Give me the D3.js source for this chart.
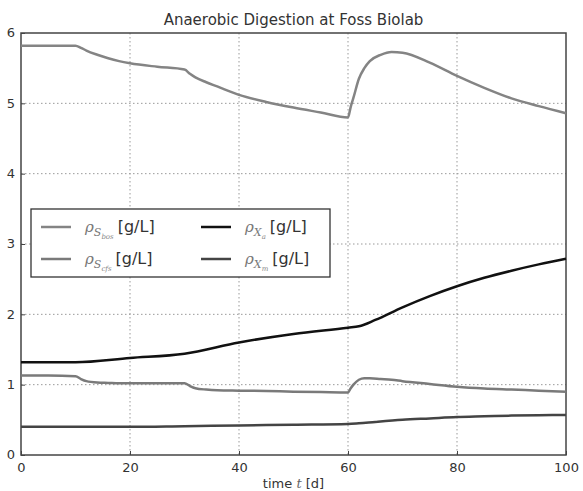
<!DOCTYPE html>
<html>
<head>
<meta charset="utf-8">
<script src="https://cdn.jsdelivr.net/npm/d3@7"></script>
<style>
  body { margin: 0; background: #fff; }
  text { font-family: "DejaVu Sans", sans-serif; fill: #333; }
</style>
</head>
<body>
<div id="chart"></div>
<script>
// time points (days)
var tS = [0, 5, 10, 11, 12, 14, 16, 18, 20, 25, 30, 31, 32, 34, 36, 40, 45, 50, 55, 60,
          60.5, 61, 62, 63, 64, 66, 68, 70, 75, 80, 85, 90, 95, 100];
var tX = [0, 10, 20, 30, 40, 50, 60, 62, 65, 70, 75, 80, 85, 90, 95, 100];

// concentrations [g/L]
var sBos = [5.82, 5.82, 5.82, 5.79, 5.75, 5.69, 5.64, 5.60, 5.57, 5.52, 5.48, 5.42, 5.37, 5.30, 5.24, 5.12, 5.02, 4.94, 4.87, 4.80,
            4.95, 5.08, 5.35, 5.50, 5.60, 5.69, 5.73, 5.72, 5.58, 5.39, 5.22, 5.07, 4.96, 4.86];
var sCfs = [1.13, 1.13, 1.12, 1.08, 1.05, 1.03, 1.025, 1.02, 1.02, 1.02, 1.02, 0.98, 0.95, 0.93, 0.92, 0.915, 0.91, 0.90, 0.895, 0.89,
            0.95, 1.00, 1.07, 1.09, 1.09, 1.08, 1.07, 1.05, 1.01, 0.97, 0.945, 0.93, 0.915, 0.90];
var xA = [1.32, 1.32, 1.38, 1.44, 1.60, 1.72, 1.81, 1.83, 1.92, 2.10, 2.26, 2.40, 2.52, 2.62, 2.71, 2.79];
var xM = [0.40, 0.40, 0.40, 0.41, 0.42, 0.43, 0.44, 0.45, 0.47, 0.50, 0.52, 0.54, 0.55, 0.56, 0.565, 0.57];

var xTicks = [0, 20, 40, 60, 80, 100];
var yTicks = [0, 1, 2, 3, 4, 5, 6];

var series = [
    {t: tS, v: sBos, color: "#848484", sub: "bos"},
    {t: tS, v: sCfs, color: "#7a7a7a", sub: "cfs"},
    {t: tX, v: xA, color: "#111111", sub: "a"},
    {t: tX, v: xM, color: "#444444", sub: "m"}
];
var legendSym = ["S", "S", "X", "X"];

var margin = {top: 33, right: 17, bottom: 36, left: 21},
    width = 583 - margin.left - margin.right,
    height = 491 - margin.top - margin.bottom;

var svg = d3.select("#chart")
    .append("svg")
    .attr("width", 583)
    .attr("height", 491);

var g = svg.append("g")
    .attr("transform", "translate(" + margin.left + "," + margin.top + ")");

var xScale = d3.scaleLinear().domain([0, 100]).range([0, width]);
var yScale = d3.scaleLinear().domain([0, 6]).range([height, 0]);

// grid
g.append("g").selectAll("line")
    .data(xTicks.slice(1, -1))
    .enter().append("line")
    .attr("x1", function(d){ return xScale(d); })
    .attr("x2", function(d){ return xScale(d); })
    .attr("y1", 0).attr("y2", height)
    .attr("stroke", "#999").attr("stroke-dasharray", "1.5,2.5");

g.append("g").selectAll("line")
    .data(yTicks.slice(1, -1))
    .enter().append("line")
    .attr("y1", function(d){ return yScale(d); })
    .attr("y2", function(d){ return yScale(d); })
    .attr("x1", 0).attr("x2", width)
    .attr("stroke", "#999").attr("stroke-dasharray", "1.5,2.5");

// axes
var xAxis = g.append("g")
    .attr("transform", "translate(0," + height + ")")
    .call(d3.axisBottom(xScale).tickValues(xTicks).tickFormat(d3.format("d")).tickSize(-4).tickPadding(8));
var yAxis = g.append("g")
    .call(d3.axisLeft(yScale).tickValues(yTicks).tickFormat(d3.format("d")).tickSize(-4).tickPadding(6));

[xAxis, yAxis].forEach(function(a){
    a.select(".domain").remove();
    a.selectAll("line").attr("stroke", "#444");
    a.selectAll("text").style("font-size", "13px").attr("fill", "#333");
});
yAxis.selectAll("text").attr("dy", "0.3em");

// frame
g.append("rect")
    .attr("width", width).attr("height", height)
    .attr("fill", "none").attr("stroke", "#444").attr("stroke-width", 1.5);

// lines
var line = d3.line()
    .x(function(d){ return xScale(d[0]); })
    .y(function(d){ return yScale(d[1]); })
    .curve(d3.curveMonotoneX);

series.forEach(function(s){
    g.append("path")
        .datum(s.t.map(function(t, i){ return [t, s.v[i]]; }))
        .attr("d", line)
        .attr("fill", "none")
        .attr("stroke", s.color)
        .attr("stroke-width", 2.5);
});

// title & labels
svg.append("text")
    .attr("x", margin.left + width / 2).attr("y", 25)
    .attr("text-anchor", "middle")
    .style("font-size", "15px")
    .text("Anaerobic Digestion at Foss Biolab");

var xl = svg.append("text")
    .attr("x", margin.left + width / 2).attr("y", 488)
    .attr("text-anchor", "middle")
    .style("font-size", "13px");
xl.append("tspan").text("time ");
xl.append("tspan").attr("font-style", "italic").attr("font-family", "DejaVu Serif").attr("fill", "#666").text("t");
xl.append("tspan").text(" [d]");

// legend
var leg = svg.append("g").attr("transform", "translate(31,209)");
leg.append("rect")
    .attr("width", 299).attr("height", 68)
    .attr("fill", "#fff").attr("stroke", "#333").attr("stroke-width", 1.3);

series.forEach(function(s, i){
    var col = Math.floor(i / 2), row = i % 2;
    var lx = 10 + col * 160, ly = 18 + row * 32;
    leg.append("line")
        .attr("x1", lx).attr("x2", lx + 30)
        .attr("y1", ly).attr("y2", ly)
        .attr("stroke", s.color).attr("stroke-width", 2.5);
    var tx = leg.append("text")
        .attr("x", lx + 44).attr("y", ly + 5)
        .style("font-size", "15px");
    tx.append("tspan").attr("font-family", "DejaVu Serif").attr("font-style", "italic")
        .attr("fill", "#777").text("\u03c1");
    tx.append("tspan").attr("font-family", "DejaVu Serif").attr("font-style", "italic")
        .attr("fill", "#777").attr("dy", 4).style("font-size", "11px").text(legendSym[i]);
    tx.append("tspan").attr("font-family", "DejaVu Serif").attr("font-style", "italic")
        .attr("fill", "#888").attr("dy", 3).style("font-size", "7px").text(s.sub);
    tx.append("tspan").attr("dy", -7).attr("dx", 4).attr("fill", "#333").style("font-size", "16px").text("[g/L]");
});
</script>
</body>
</html>
